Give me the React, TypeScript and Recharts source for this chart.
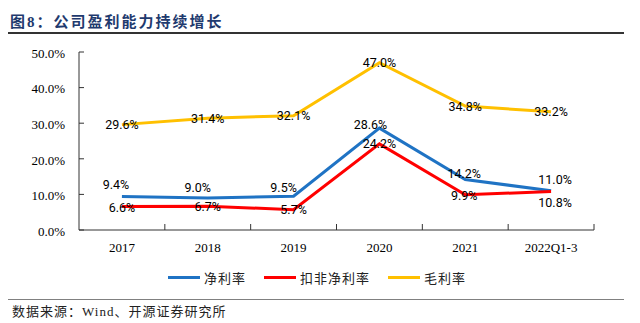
import { LineChart, Line, XAxis, YAxis, LabelList } from 'recharts';

// 图8：公司盈利能力持续增长 -- net margin / deducted net margin / gross margin

const years = ['2017', '2018', '2019', '2020', '2021', '2022Q1-3'];
const netMargin = [9.4, 9.0, 9.5, 28.6, 14.2, 11.0];
const deductedNetMargin = [6.6, 6.7, 5.7, 24.2, 9.9, 10.8];
const grossMargin = [29.6, 31.4, 32.1, 47.0, 34.8, 33.2];
const yTicks = [0, 10, 20, 30, 40, 50];

const seriesNames = ['净利率', '扣非净利率', '毛利率'];
const seriesColors = ['#1f73c4', '#ff0000', '#ffc000'];

// label nudges (px) so the numbers sit where the original put them
const netLabelDx = [-6, -10, -10, -9, -1, 4];
const netLabelDy = [-12, -10, -9, -4, -6, -11];
const dedLabelDx = [0, 0, 0, 0, -1, 4];
const dedLabelDy = [1, 0, 0, 0, 1, 11];

const data = years.map((year, i) => ({
  year,
  net: netMargin[i],
  ded: deductedNetMargin[i],
  gross: grossMargin[i],
}));

const PLOT_LEFT = 79;
const PLOT_RIGHT = 594;
const BAND = (PLOT_RIGHT - PLOT_LEFT) / years.length;
const AXIS_COLOR = '#333333';
const SERIF = '"Liberation Serif", "Times New Roman", serif';
const CJK = '"Noto Sans CJK SC", sans-serif';

function makeLabel(dxs?: number[], dys?: number[]) {
  return (props: any) => {
    const { x, y, value, index } = props;
    const dx = dxs ? dxs[index] : 0;
    const dy = dys ? dys[index] : 0;
    return (
      <text
        x={x + dx}
        y={y + dy}
        textAnchor="middle"
        dominantBaseline="central"
        fontFamily="Roboto, sans-serif"
        fontSize={12.5}
        fill="#000"
      >
        {Number(value).toFixed(1)}%
      </text>
    );
  };
}

function YTick(props: any) {
  const { x, y, payload } = props;
  const axisX = x + 14;
  return (
    <g>
      <line x1={axisX} x2={axisX + 5} y1={y} y2={y} stroke={AXIS_COLOR} />
      <text x={x} y={y} dy="0.45em" textAnchor="end" fontFamily={SERIF} fontSize={13} fill="#000">
        {Number(payload.value).toFixed(1)}%
      </text>
    </g>
  );
}

function XTick(props: any) {
  const { x, y, payload } = props;
  const axisY = y - 17;
  return (
    <g>
      <line x1={x + BAND / 2} x2={x + BAND / 2} y1={axisY} y2={axisY - 6} stroke={AXIS_COLOR} />
      <text x={x} y={y} dominantBaseline="central" textAnchor="middle" fontFamily={SERIF} fontSize={13} fill="#000">
        {payload.value}
      </text>
    </g>
  );
}

export default function App() {
  return (
    <div style={{ position: 'absolute', left: 0, top: 0, width: 640, height: 323, background: '#fff', overflow: 'hidden' }}>
      {/* title */}
      <div
        style={{
          position: 'absolute', left: 10, top: 11, fontFamily: CJK, fontWeight: 700,
          fontSize: 15, lineHeight: '20px', letterSpacing: 2, color: '#1f3a6e', whiteSpace: 'nowrap',
        }}
      >
        图<span style={{ fontFamily: SERIF }}>8</span>：公司盈利能力持续增长
      </div>
      <div style={{ position: 'absolute', left: 8, top: 32, width: 616, height: 1.5, background: '#333' }} />

      <div style={{ position: 'absolute', left: 0, top: 0 }}>
        <LineChart width={640} height={290} data={data} margin={{ top: 52, right: 46, bottom: 30, left: 0 }}>
          <XAxis
            dataKey="year"
            height={30}
            padding={{ left: BAND / 2, right: BAND / 2 }}
            tickLine={false}
            tickSize={0}
            tickMargin={17}
            axisLine={{ stroke: AXIS_COLOR }}
            tick={<XTick />}
            interval={0}
          />
          <YAxis
            type="number"
            domain={[0, 50]}
            ticks={yTicks}
            width={79}
            tickLine={false}
            tickSize={0}
            tickMargin={14}
            axisLine={{ stroke: AXIS_COLOR }}
            tick={<YTick />}
            interval={0}
          />
          <Line dataKey="gross" stroke={seriesColors[2]} strokeWidth={3} dot={false} isAnimationActive={false}>
            <LabelList dataKey="gross" content={makeLabel()} />
          </Line>
          <Line dataKey="net" stroke={seriesColors[0]} strokeWidth={3} dot={false} isAnimationActive={false}>
            <LabelList dataKey="net" content={makeLabel(netLabelDx, netLabelDy)} />
          </Line>
          <Line dataKey="ded" stroke={seriesColors[1]} strokeWidth={3} dot={false} isAnimationActive={false}>
            <LabelList dataKey="ded" content={makeLabel(dedLabelDx, dedLabelDy)} />
          </Line>
        </LineChart>
      </div>

      {/* legend */}
      <div style={{ position: 'absolute', left: 168, top: 268, display: 'flex', gap: 18, alignItems: 'center', height: 18 }}>
        {seriesNames.map((name, i) => (
          <div key={name} style={{ display: 'flex', alignItems: 'center' }}>
            <div style={{ width: 32, height: 3, background: seriesColors[i], marginRight: 4 }} />
            <span style={{ fontFamily: CJK, fontSize: 13, letterSpacing: 1, color: '#222', whiteSpace: 'nowrap' }}>{name}</span>
          </div>
        ))}
      </div>

      {/* source */}
      <div style={{ position: 'absolute', left: 8, top: 299, width: 616, height: 1, background: '#808080' }} />
      <div
        style={{
          position: 'absolute', left: 12, top: 302, fontFamily: CJK, fontSize: 13, lineHeight: '18px',
          letterSpacing: 1, color: '#222', whiteSpace: 'nowrap',
        }}
      >
        数据来源：<span style={{ fontFamily: SERIF }}>Wind</span>、开源证券研究所
      </div>
    </div>
  );
}
